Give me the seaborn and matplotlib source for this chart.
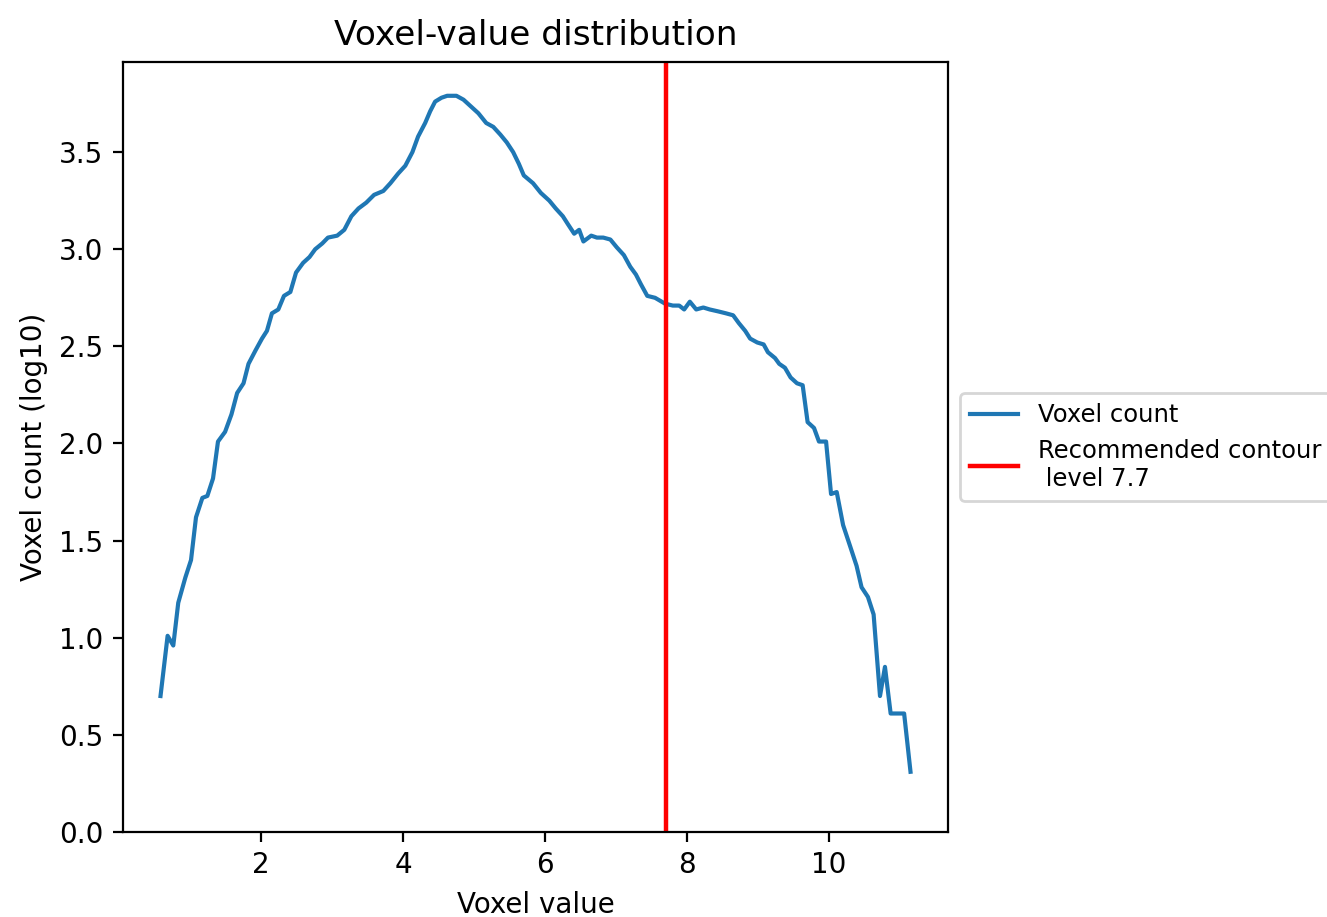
import numpy as np
import pandas as pd
import seaborn as sns
import matplotlib
matplotlib.use("Agg")
import matplotlib.pyplot as plt

# values
voxel_value = [
    0.58, 0.68, 0.76, 0.83, 0.93, 1.01, 1.08, 1.17, 1.24, 1.32, 1.39, 1.49,
    1.58, 1.66, 1.75, 1.82, 1.92, 2.01, 2.08, 2.15, 2.24, 2.32, 2.41, 2.49,
    2.59, 2.68, 2.76, 2.86, 2.94, 3.07, 3.17, 3.27, 3.37, 3.48, 3.59, 3.72,
    3.82, 3.93, 4.03, 4.13, 4.21, 4.31, 4.38, 4.45, 4.54, 4.62, 4.75, 4.85,
    4.94, 5.06, 5.17, 5.27, 5.37, 5.46, 5.55, 5.63, 5.70, 5.83, 5.94, 6.06,
    6.15, 6.25, 6.32, 6.41, 6.48, 6.54, 6.65, 6.73, 6.82, 6.92, 7.01, 7.11,
    7.20, 7.28, 7.35, 7.44, 7.55, 7.69, 7.80, 7.89, 7.96, 8.04, 8.13, 8.23,
    8.32, 8.44, 8.55, 8.65, 8.73, 8.82, 8.89, 8.99, 9.08, 9.14, 9.24, 9.30,
    9.38, 9.46, 9.55, 9.63, 9.70, 9.79, 9.86, 9.96, 10.03, 10.11, 10.20,
    10.30, 10.39, 10.46, 10.55, 10.63, 10.72, 10.79, 10.87, 11.06, 11.15,
]
voxel_count_log = [
    0.70, 1.01, 0.96, 1.18, 1.31, 1.40, 1.62, 1.72, 1.73, 1.82, 2.01, 2.06,
    2.15, 2.26, 2.31, 2.41, 2.48, 2.54, 2.58, 2.67, 2.69, 2.76, 2.78, 2.88,
    2.93, 2.96, 3.00, 3.03, 3.06, 3.07, 3.10, 3.17, 3.21, 3.24, 3.28, 3.30,
    3.34, 3.39, 3.43, 3.50, 3.58, 3.65, 3.71, 3.76, 3.78, 3.79, 3.79, 3.77,
    3.74, 3.70, 3.65, 3.63, 3.59, 3.55, 3.50, 3.44, 3.38, 3.34, 3.29, 3.25,
    3.21, 3.17, 3.13, 3.08, 3.10, 3.04, 3.07, 3.06, 3.06, 3.05, 3.01, 2.97,
    2.91, 2.87, 2.82, 2.76, 2.75, 2.72, 2.71, 2.71, 2.69, 2.73, 2.69, 2.70,
    2.69, 2.68, 2.67, 2.66, 2.62, 2.58, 2.54, 2.52, 2.51, 2.47, 2.44, 2.41,
    2.39, 2.34, 2.31, 2.30, 2.11, 2.08, 2.01, 2.01, 1.74, 1.75, 1.58,
    1.47, 1.37, 1.26, 1.21, 1.12, 0.70, 0.85, 0.61, 0.61, 0.31,
]
contour_level = 7.7

df = pd.DataFrame({"value": voxel_value, "count": voxel_count_log})

fig = plt.figure(figsize=(6.635, 4.585), dpi=200)
ax = fig.add_axes([0.0927, 0.0927, 0.6217, 0.8397])

sns.lineplot(data=df, x="value", y="count", ax=ax, label="Voxel count",
             color="#1f77b4", linewidth=1.5)
ax.axvline(contour_level, color="red", linewidth=1.6,
           label=f"Recommended contour\n level {contour_level}")

ax.set_ylim(bottom=0)
ax.set_title("Voxel-value distribution", fontsize=12.4)
ax.set_xlabel("Voxel value")
ax.set_ylabel("Voxel count (log10)")
ax.legend(loc="center left", bbox_to_anchor=(1, 0.5), fontsize=8.75)

fig.savefig("out.png", dpi=200)
